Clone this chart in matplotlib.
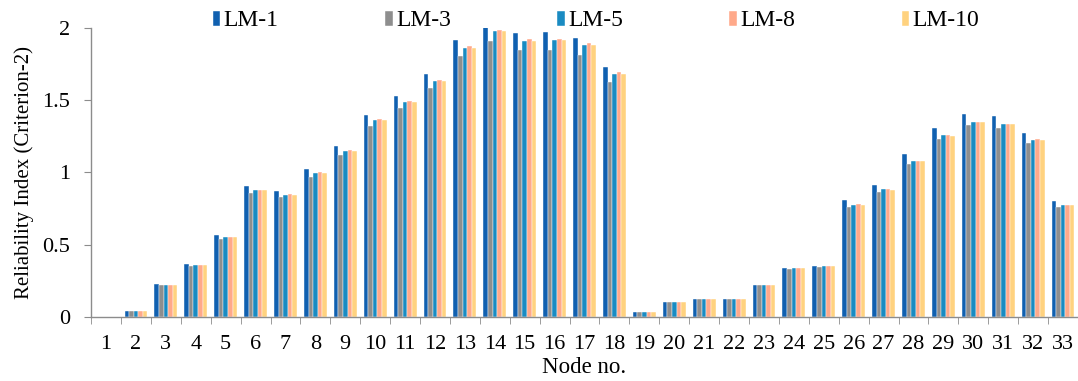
import matplotlib
matplotlib.use("Agg")
import matplotlib.pyplot as plt
import numpy as np

plt.rcParams['font.family'] = ['Liberation Serif', 'DejaVu Serif']

nodes = [str(i) for i in range(1, 34)]
series = ["LM-1", "LM-3", "LM-5", "LM-8", "LM-10"]

lm1 = [0, 0.044, 0.228, 0.369, 0.570, 0.904, 0.870, 1.022, 1.181, 1.400,
       1.529, 1.679, 1.915, 2.005, 1.965, 1.970, 1.931, 1.730, 0.032, 0.101,
       0.125, 0.127, 0.221, 0.337, 0.353, 0.807, 0.916, 1.126, 1.308, 1.405,
       1.389, 1.273, 0.805]
lm3 = [0, 0.044, 0.219, 0.353, 0.542, 0.858, 0.828, 0.971, 1.117, 1.320,
       1.442, 1.582, 1.802, 1.912, 1.845, 1.845, 1.811, 1.622, 0.032, 0.101,
       0.125, 0.127, 0.219, 0.332, 0.348, 0.764, 0.863, 1.061, 1.234, 1.326,
       1.308, 1.202, 0.759]
lm5 = [0, 0.044, 0.224, 0.358, 0.551, 0.877, 0.847, 0.997, 1.146, 1.361,
       1.488, 1.633, 1.862, 1.977, 1.912, 1.915, 1.880, 1.684, 0.032, 0.101,
       0.125, 0.127, 0.219, 0.337, 0.353, 0.777, 0.883, 1.082, 1.257, 1.347,
       1.333, 1.225, 0.773]
lm8 = [0, 0.044, 0.224, 0.358, 0.554, 0.877, 0.849, 1.001, 1.153, 1.368,
       1.497, 1.642, 1.873, 1.988, 1.924, 1.926, 1.892, 1.693, 0.032, 0.101,
       0.125, 0.127, 0.219, 0.337, 0.353, 0.780, 0.883, 1.082, 1.257, 1.349,
       1.338, 1.230, 0.775]
lm10 = [0, 0.044, 0.224, 0.358, 0.551, 0.875, 0.844, 0.994, 1.146, 1.361,
        1.488, 1.635, 1.862, 1.977, 1.912, 1.915, 1.880, 1.684, 0.032, 0.101,
        0.125, 0.127, 0.219, 0.337, 0.353, 0.777, 0.881, 1.080, 1.255, 1.347,
        1.333, 1.225, 0.773]

colors = ['#1060B0', '#8E8E8E', '#1A8BC2', '#FFA98A', '#FFD27F']

fig = plt.figure(figsize=(10.78, 3.81), dpi=100)
ax = fig.add_axes([0.0845, 0.168, 0.9155, 0.759])

x = np.arange(len(nodes))
w = 0.153
for k, (vals, name) in enumerate(zip([lm1, lm3, lm5, lm8, lm10], series)):
    ax.bar(x + (k - 2) * w, vals, width=w, color=colors[k], label=name,
           edgecolor='white', linewidth=0.3)

ax.set_xlim(-0.5, len(nodes) - 0.5)
ax.set_ylim(0, 2)
ax.set_yticks([0, 0.5, 1, 1.5, 2])
ax.set_yticklabels(['0', '0.5', '1', '1.5', '2'])
ax.set_xticks(x)
ax.set_xticklabels(nodes)
ax.set_xticks(np.arange(len(nodes) + 1) - 0.5, minor=True)
ax.tick_params(axis='x', which='major', length=0, pad=13, labelsize=16)
ax.tick_params(axis='x', which='minor', length=5, color='#8C8C8C', direction='out')
ax.tick_params(axis='y', length=5, color='#8C8C8C', direction='out', pad=10, labelsize=16)

for s in ['top', 'right']:
    ax.spines[s].set_visible(False)
for s in ['left', 'bottom']:
    ax.spines[s].set_color('#8C8C8C')
    ax.spines[s].set_linewidth(1)

ax.set_xlabel("Node no.", fontsize=16.5, labelpad=2)
ax.set_ylabel("Reliability Index (Criterion-2)", fontsize=15, labelpad=6)

fig.legend(loc='center', bbox_to_anchor=(0.553, 0.945), ncol=5, frameon=False,
           fontsize=17, handlelength=0.32, handleheight=0.6, handletextpad=0.15,
           columnspacing=4.5)

fig.savefig("out.png", dpi=100)
